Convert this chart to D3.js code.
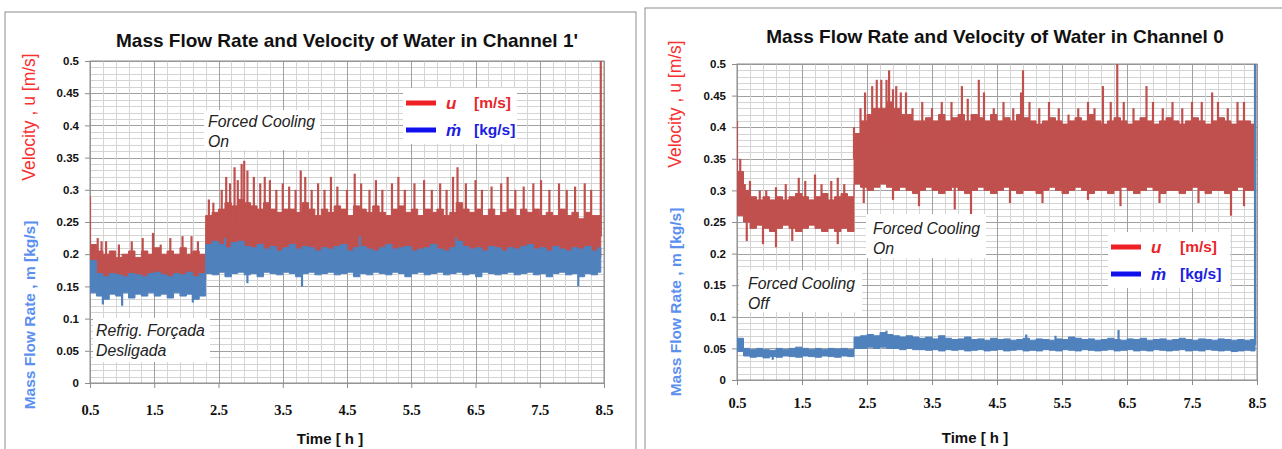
<!DOCTYPE html>
<html><head><meta charset="utf-8">
<script src="https://cdn.jsdelivr.net/npm/d3@7"></script>
<style>body{margin:0;background:#fff}svg{display:block}</style>
</head><body>
<svg id="c" width="1282" height="449"></svg>
<script>
// ---------- DATA ----------
const xTicks = [0.5,1.5,2.5,3.5,4.5,5.5,6.5,7.5,8.5];
const yTicks = [0,0.05,0.1,0.15,0.2,0.25,0.3,0.35,0.4,0.45,0.5];
const binStart = 0.5, binStep = 0.1;   // samples every 0.1 h
const tEnd1 = 8.45, tEnd0 = 8.47;

// Channel 1' : velocity u (upper/lower envelope per 0.1 h)
const uHi1 = [0.215,0.205,0.2,0.205,0.195,0.2,0.205,0.195,0.205,0.2,0.21,0.2,0.205,0.2,0.21,0.2,0.205,0.2,
0.26,0.265,0.27,0.28,0.275,0.285,0.28,0.275,0.27,0.28,
0.27,0.265,0.27,0.27,0.265,0.28,0.27,0.26,0.27,0.265,
0.275,0.27,0.26,0.275,0.27,0.265,0.275,0.265,0.26,0.27,
0.275,0.265,0.27,0.26,0.27,0.265,0.27,0.26,0.265,0.28,
0.27,0.265,0.27,0.26,0.27,0.26,0.265,0.27,0.26,0.27,
0.265,0.27,0.26,0.265,0.26,0.27,0.26,0.265,0.255,0.265,
0.26,0.26];
const uLo1 = [0.165,0.16,0.165,0.16,0.165,0.16,0.165,0.16,0.165,0.16,0.165,0.16,0.165,0.16,0.165,0.16,0.165,0.16,
0.2,0.195,0.2,0.2,0.195,0.2,0.2,0.195,0.2,0.2,
0.195,0.2,0.2,0.195,0.2,0.2,0.195,0.2,0.2,0.195,
0.2,0.2,0.195,0.2,0.2,0.195,0.2,0.2,0.195,0.2,
0.2,0.195,0.2,0.2,0.195,0.2,0.2,0.195,0.2,0.2,
0.195,0.2,0.2,0.195,0.2,0.2,0.195,0.2,0.2,0.195,
0.2,0.2,0.195,0.2,0.2,0.195,0.2,0.2,0.195,0.2,
0.2,0.195];
// Channel 1' : velocity peaks (time h, value m/s)
const uPeakT1 = [0.5,0.62,0.68,0.75,0.95,1.15,1.32,1.48,1.6,1.75,1.94,2.08,2.18,2.35,2.42,2.55,2.62,2.68,2.75,2.8,2.86,2.9,2.95,3.05,3.15,3.22,3.3,3.4,3.5,3.6,3.7,3.78,3.85,3.95,4.05,4.15,4.25,4.35,4.5,4.62,4.72,4.85,4.95,5.05,5.2,5.3,5.4,5.55,5.7,5.82,5.95,6.05,6.15,6.22,6.35,6.5,6.6,6.75,6.9,7.0,7.12,7.25,7.4,7.52,7.65,7.8,7.92,8.05,8.2,8.3,8.45];
const uPeakV1 = [0.29,0.225,0.22,0.22,0.215,0.22,0.225,0.233,0.215,0.225,0.228,0.228,0.22,0.285,0.28,0.3,0.32,0.31,0.335,0.315,0.34,0.345,0.33,0.32,0.31,0.32,0.315,0.3,0.31,0.305,0.3,0.33,0.32,0.3,0.31,0.3,0.32,0.305,0.3,0.325,0.31,0.3,0.315,0.3,0.31,0.32,0.3,0.31,0.315,0.3,0.31,0.3,0.32,0.335,0.31,0.315,0.3,0.305,0.31,0.32,0.3,0.305,0.31,0.315,0.3,0.31,0.3,0.305,0.31,0.3,0.5];

// Channel 1' : mass flow rate m
const mHi1 = [0.19,0.17,0.165,0.17,0.168,0.165,0.17,0.168,0.165,0.17,0.172,0.168,0.165,0.17,0.168,0.172,0.165,0.17,
0.215,0.22,0.215,0.21,0.218,0.22,0.212,0.21,0.215,0.208,
0.212,0.205,0.21,0.215,0.208,0.212,0.21,0.205,0.21,0.208,
0.212,0.215,0.205,0.21,0.212,0.208,0.205,0.21,0.215,0.208,
0.21,0.212,0.205,0.208,0.21,0.215,0.208,0.205,0.21,0.22,
0.212,0.208,0.21,0.205,0.212,0.21,0.205,0.21,0.208,0.212,
0.215,0.208,0.21,0.205,0.212,0.208,0.205,0.21,0.208,0.212,
0.205,0.21];
const mLo1 = [0.14,0.135,0.13,0.138,0.135,0.14,0.132,0.138,0.135,0.14,0.135,0.138,0.132,0.14,0.135,0.138,0.13,0.135,
0.17,0.168,0.172,0.165,0.17,0.172,0.168,0.17,0.165,0.172,
0.17,0.168,0.172,0.17,0.165,0.17,0.172,0.168,0.17,0.172,
0.168,0.17,0.172,0.165,0.17,0.168,0.172,0.17,0.168,0.172,
0.17,0.165,0.17,0.172,0.168,0.17,0.172,0.168,0.17,0.172,
0.168,0.17,0.165,0.172,0.17,0.168,0.17,0.172,0.168,0.17,
0.172,0.168,0.17,0.165,0.17,0.172,0.168,0.17,0.165,0.17,
0.168,0.172];
const mPeakT1 = [0.7,1.0,2.1,2.6,2.95,3.8,4.7,6.2,8.1];
const mPeakV1 = [0.122,0.12,0.125,0.225,0.155,0.15,0.228,0.226,0.15];

// Channel 0 : velocity u
const uHi0 = [0.33,0.3,0.29,0.285,0.29,0.285,0.29,0.285,0.29,0.295,0.29,0.285,0.29,0.295,0.285,0.29,0.295,0.29,
0.39,0.41,0.42,0.43,0.43,0.44,0.43,0.42,0.42,0.41,
0.41,0.415,0.41,0.42,0.41,0.415,0.42,0.41,0.42,0.415,
0.41,0.42,0.41,0.415,0.41,0.42,0.415,0.41,0.405,0.41,
0.415,0.41,0.405,0.41,0.415,0.41,0.42,0.41,0.405,0.41,
0.415,0.41,0.405,0.41,0.415,0.41,0.405,0.41,0.415,0.41,
0.405,0.41,0.415,0.41,0.405,0.41,0.415,0.41,0.405,0.41,
0.41,0.405];
const uLo0 = [0.26,0.25,0.24,0.245,0.24,0.235,0.24,0.245,0.24,0.235,0.24,0.245,0.24,0.235,0.24,0.235,0.24,0.235,
0.31,0.305,0.3,0.305,0.31,0.305,0.3,0.305,0.3,0.295,
0.3,0.305,0.3,0.295,0.3,0.305,0.3,0.295,0.3,0.305,
0.3,0.295,0.3,0.305,0.3,0.295,0.3,0.3,0.295,0.3,
0.305,0.3,0.295,0.3,0.305,0.3,0.295,0.3,0.3,0.295,
0.3,0.305,0.3,0.295,0.3,0.305,0.3,0.295,0.3,0.3,
0.295,0.3,0.305,0.3,0.295,0.3,0.3,0.295,0.3,0.305,
0.3,0.3];
const uPeakT0 = [0.5,0.55,0.62,0.7,0.85,0.95,1.1,1.25,1.45,1.55,1.7,1.8,1.95,2.05,2.15,0.65,0.9,1.1,1.35,2.05,
2.3,2.4,2.47,2.58,2.65,2.72,2.8,2.84,2.9,2.95,3.02,3.1,3.2,3.35,3.5,3.65,3.8,3.96,4.05,4.22,4.3,4.45,4.6,4.75,4.87,4.9,5.0,5.15,5.3,5.45,5.6,5.75,5.9,6.0,6.13,6.25,6.35,6.45,6.6,6.8,6.9,7.05,7.2,7.35,7.5,7.65,7.81,7.9,8.05,8.2,8.3,8.47,
2.45,2.9,3.3,3.85,4.1,4.7,5.2,5.9,6.4,7.0,7.6,8.1,8.3];
const uPeakV0 = [0.41,0.35,0.31,0.315,0.3,0.3,0.305,0.31,0.32,0.315,0.325,0.31,0.315,0.32,0.31,0.22,0.215,0.21,0.22,0.215,
0.4,0.43,0.455,0.465,0.475,0.475,0.475,0.49,0.46,0.465,0.455,0.455,0.43,0.44,0.43,0.44,0.44,0.465,0.445,0.475,0.455,0.43,0.44,0.43,0.455,0.49,0.44,0.43,0.44,0.43,0.42,0.43,0.44,0.43,0.465,0.44,0.5,0.44,0.43,0.465,0.44,0.43,0.44,0.43,0.44,0.44,0.455,0.44,0.43,0.44,0.44,0.5,
0.28,0.285,0.275,0.27,0.262,0.28,0.28,0.285,0.275,0.28,0.28,0.26,0.275];

// Channel 0 : mass flow rate m
const mHi0 = [0.066,0.05,0.048,0.05,0.048,0.047,0.05,0.048,0.05,0.052,0.05,0.048,0.05,0.048,0.05,0.049,0.05,0.048,
0.068,0.07,0.072,0.07,0.075,0.072,0.07,0.068,0.07,0.068,
0.066,0.068,0.065,0.07,0.066,0.064,0.065,0.068,0.064,0.065,
0.063,0.066,0.064,0.065,0.063,0.064,0.066,0.063,0.065,0.064,
0.063,0.065,0.064,0.068,0.066,0.064,0.065,0.063,0.064,0.066,
0.064,0.063,0.065,0.064,0.066,0.063,0.064,0.065,0.063,0.064,
0.066,0.064,0.063,0.065,0.064,0.063,0.065,0.064,0.063,0.064,
0.063,0.064];
const mLo0 = [0.045,0.038,0.036,0.037,0.035,0.037,0.036,0.038,0.037,0.036,0.038,0.037,0.036,0.038,0.037,0.036,0.038,0.037,
0.05,0.05,0.052,0.05,0.052,0.05,0.05,0.048,0.05,0.048,
0.048,0.047,0.048,0.046,0.048,0.047,0.048,0.046,0.047,0.048,
0.046,0.047,0.048,0.046,0.047,0.048,0.046,0.047,0.046,0.048,
0.047,0.046,0.048,0.047,0.046,0.048,0.047,0.046,0.047,0.048,
0.046,0.047,0.048,0.046,0.047,0.046,0.048,0.047,0.046,0.047,
0.048,0.046,0.047,0.046,0.048,0.047,0.046,0.047,0.045,0.046,
0.047,0.046];
const mPeakT0 = [0.5,2.8,4.95,5.4,6.37,1.05,8.47];
const mPeakV0 = [0.066,0.078,0.072,0.07,0.079,0.032,0.5];

// ---------- DRAWING ----------
const svg = d3.select('#c');
const RED = '#c0504d', BLUE = '#4f81bd';
const SANS = 'Arial, "Liberation Sans", sans-serif';

function drawChart(cfg){
  const g = svg.append('g');
  g.append('rect').attr('x',cfg.frame[0]).attr('y',cfg.frame[1]).attr('width',cfg.frame[2]).attr('height',cfg.frame[3])
    .attr('fill','#fff').attr('stroke','#8c8c8c').attr('stroke-width',1);
  const x = d3.scaleLinear().domain([0.5,8.5]).range([cfg.px0,cfg.px1]);
  const y = d3.scaleLinear().domain([0,0.5]).range([cfg.py1,cfg.py0]);
  // grid
  const gx = d3.range(0.5,8.5001,0.2).map(v=>+v.toFixed(2));
  const gy = d3.range(0,0.5001,0.01).map(v=>+v.toFixed(2));
  g.append('g').selectAll('line').data(gy).join('line')
    .attr('x1',cfg.px0).attr('x2',cfg.px1).attr('y1',d=>Math.round(y(d))+0.5).attr('y2',d=>Math.round(y(d))+0.5)
    .attr('stroke',d=>Math.abs(d*20-Math.round(d*20))<1e-6?'#a0a0a0':'#d4d4d4').attr('stroke-width',1);
  g.append('g').selectAll('line').data(gx).join('line')
    .attr('y1',cfg.py0).attr('y2',cfg.py1).attr('x1',d=>Math.round(x(d))+0.5).attr('x2',d=>Math.round(x(d))+0.5)
    .attr('stroke',d=>xTicks.includes(d)?'#a0a0a0':'#d4d4d4').attr('stroke-width',1);
  g.append('rect').attr('x',cfg.px0).attr('y',cfg.py0).attr('width',cfg.px1-cfg.px0).attr('height',cfg.py1-cfg.py0)
    .attr('fill','none').attr('stroke','#8c8c8c');
  // axes
  const ax = g.append('g').attr('transform',`translate(0,${cfg.py1})`)
    .call(d3.axisBottom(x).tickValues(xTicks).tickFormat(d3.format('.1f')).tickSize(5).tickPadding(cfg.xPad));
  ax.select('.domain').remove();
  ax.selectAll('line').attr('stroke','#8c8c8c');
  ax.selectAll('text').attr('font-family','"Liberation Serif", serif').attr('font-weight','bold').attr('font-size',14.5).attr('fill','#111');
  const ay = g.append('g').attr('transform',`translate(${cfg.px0},0)`)
    .call(d3.axisLeft(y).tickValues(yTicks).tickFormat(d=>d3.format('')(d)).tickSize(5).tickPadding(6));
  ay.select('.domain').remove();
  ay.selectAll('line').attr('stroke','#8c8c8c');
  ay.selectAll('text').attr('font-family',SANS).attr('font-weight','bold').attr('font-size',11.5).attr('fill','#111');

  const clip = 'clip'+cfg.id;
  g.append('clipPath').attr('id',clip).append('rect').attr('x',cfg.px0).attr('y',cfg.py0-1).attr('width',cfg.px1-cfg.px0).attr('height',cfg.py1-cfg.py0+1);
  const plot = g.append('g').attr('clip-path',`url(#${clip})`);

  function band(hi,lo,pT,pV,color,tEnd){
    const pts = hi.map((h,i)=>({t:binStart+i*binStep,hi:h,lo:lo[i]}));
    pts.push({t:tEnd,hi:hi[hi.length-1],lo:lo[lo.length-1]});
    plot.append('path').datum(pts)
      .attr('d',d3.area().curve(d3.curveStepAfter).x(d=>x(d.t)).y0(d=>y(d.lo)).y1(d=>y(d.hi)))
      .attr('fill',color).attr('stroke',color).attr('stroke-width',1);
    const mid = t=>{const i=Math.max(0,Math.min(hi.length-1,Math.floor((t-binStart)/binStep+1e-9)));return (hi[i]+lo[i])/2;};
    plot.append('g').selectAll('line').data(pT.map((t,i)=>({t,v:pV[i]}))).join('line')
      .attr('x1',d=>x(d.t)).attr('x2',d=>x(d.t)).attr('y1',d=>y(mid(d.t))).attr('y2',d=>y(d.v))
      .attr('stroke',color).attr('stroke-width',2.2);
  }
  band(cfg.uHi,cfg.uLo,cfg.uPT,cfg.uPV,RED,cfg.tEnd);
  band(cfg.mHi,cfg.mLo,cfg.mPT,cfg.mPV,BLUE,cfg.tEnd);

  // title
  g.append('text').attr('x',cfg.title[0]).attr('y',cfg.title[1]).attr('text-anchor','middle')
    .attr('font-family',SANS).attr('font-weight','bold').attr('font-size',19).attr('fill','#111').text(cfg.titleText);
  // y labels
  g.append('text').attr('transform',`translate(${cfg.ylx},${cfg.redCy}) rotate(-90)`).attr('text-anchor','middle')
    .attr('font-family',SANS).attr('font-size',17.5).attr('fill','#f83030').text('Velocity , u [m/s]');
  g.append('text').attr('transform',`translate(${cfg.ylx},${cfg.blueCy}) rotate(-90)`).attr('text-anchor','middle')
    .attr('font-family',SANS).attr('font-size',15.5).attr('font-weight',600).attr('fill','#5b8ff0').text('Mass Flow Rate , m [kg/s]');
  // x title
  g.append('text').attr('x',cfg.xt[0]).attr('y',cfg.xt[1]).attr('text-anchor','middle')
    .attr('font-family',SANS).attr('font-weight','bold').attr('font-size',15).attr('fill','#111').text('Time [ h ]');
  // annotations
  cfg.notes.forEach(n=>{
    g.append('rect').attr('x',n.box[0]).attr('y',n.box[1]).attr('width',n.box[2]).attr('height',n.box[3]).attr('fill','#fff');
    n.lines.forEach((s,i)=>g.append('text').attr('x',n.x).attr('y',n.y+i*19.5)
      .attr('font-family',SANS).attr('font-style','italic').attr('font-size',15.8).attr('fill','#222').text(s));
  });
  // legend
  const L = cfg.legend;
  g.append('rect').attr('x',L.x).attr('y',L.y).attr('width',L.w).attr('height',L.h).attr('fill','#fff');
  [['u','[m/s]','#ee2026','#e8262c',0],['ṁ','[kg/s]','#1010ee','#2020e0',1]].forEach(([sym,unit,lc,tc,i])=>{
    const yy = L.y + 15 + i*27;
    g.append('line').attr('x1',L.x+3).attr('x2',L.x+33).attr('y1',yy).attr('y2',yy).attr('stroke',lc).attr('stroke-width',5);
    g.append('text').attr('x',L.x+43).attr('y',yy+6).attr('font-family',SANS)
      .attr('font-style','italic').attr('font-weight','bold').attr('font-size',17).attr('fill',tc).text(sym);
    g.append('text').attr('x',L.x+L.ux).attr('y',yy+5).attr('font-family',SANS)
      .attr('font-weight','bold').attr('font-size',15.5).attr('fill',tc).text(unit);
  });
}

drawChart({id:1, frame:[5,12,631,450], px0:90, px1:604, py0:61, py1:383, xPad:17,
  title:[347,47], titleText:"Mass Flow Rate and Velocity of Water in Channel 1'",
  ylx:35, redCy:117, blueCy:315, xt:[330,444],
  uHi:uHi1,uLo:uLo1,uPT:uPeakT1,uPV:uPeakV1,mHi:mHi1,mLo:mLo1,mPT:mPeakT1,mPV:mPeakV1,tEnd:tEnd1,
  notes:[{box:[204,110,116,40],x:208,y:127,lines:['Forced Cooling','On']},
         {box:[93,318,117,44],x:96,y:336,lines:['Refrig. Forçada','Desligada']}],
  legend:{x:403,y:88,w:114,h:56,ux:71}
});
drawChart({id:0, frame:[645,8,640,450], px0:737, px1:1257, py0:64, py1:380, xPad:13,
  title:[995,43], titleText:"Mass Flow Rate and Velocity of Water in Channel 0",
  ylx:681, redCy:104, blueCy:302, xt:[975,443],
  uHi:uHi0,uLo:uLo0,uPT:uPeakT0,uPV:uPeakV0,mHi:mHi0,mLo:mLo0,mPT:mPeakT0,mPV:mPeakV0,tEnd:tEnd0,
  notes:[{box:[866,214,120,44],x:873,y:234,lines:['Forced Cooling','On']},
         {box:[739,270,123,42],x:748,y:289,lines:['Forced Cooling','Off']}],
  legend:{x:1108,y:232,w:122,h:56,ux:72}
});
</script>
</body></html>
